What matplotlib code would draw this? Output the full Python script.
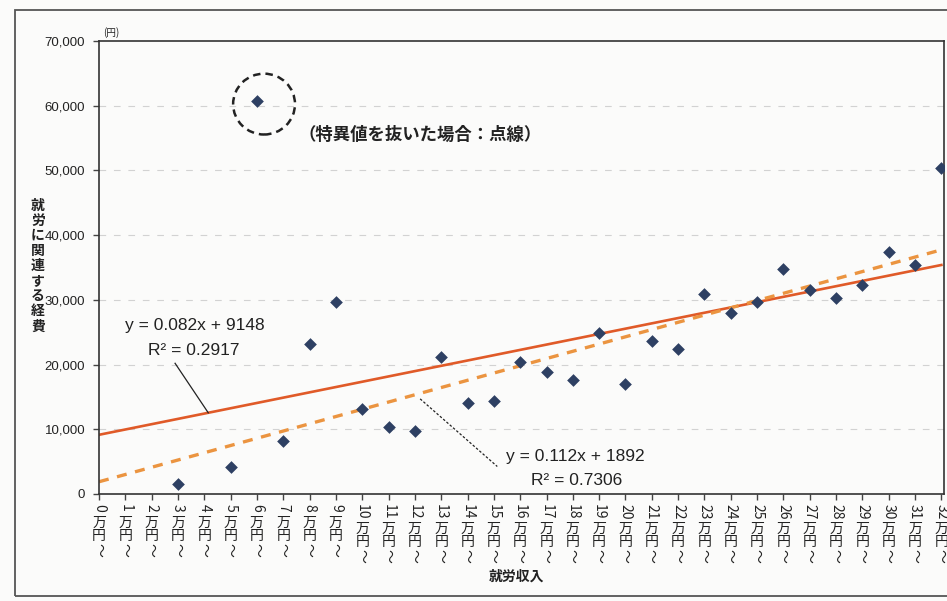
import numpy as np
import matplotlib
matplotlib.use("Agg")
from matplotlib import pyplot as plt
from matplotlib.patches import Ellipse, Rectangle

# 就労収入の階級 (万円) と就労に関連する経費 (円)
categories = list(range(0, 33))
income_idx = [3, 5, 6, 7, 8, 9, 10, 11, 12, 13, 14, 15, 16, 17, 18, 19, 20,
              21, 22, 23, 24, 25, 26, 27, 28, 29, 30, 31, 32]
expense = [1600, 4100, 60700, 8200, 23200, 29600, 13200, 10400, 9800, 21200,
           14000, 14300, 20400, 18900, 17600, 24900, 17000, 23600, 22400,
           30900, 27900, 29700, 34700, 31500, 30300, 32300, 37400, 35400, 50300]
outlier_idx = 6

# 近似直線 (x は円単位)
fit_all = (0.082, 9148, 0.2917)
fit_wo = (0.112, 1892, 0.7306)

yticks = list(range(0, 70001, 10000))
jp = ["Noto Sans CJK JP", "DejaVu Sans"]
num = ["Liberation Sans", "DejaVu Sans"]
ink = "#222222"

W, H = 947, 601
fig = plt.figure(figsize=(W / 100, H / 100), dpi=100)
fig.patch.set_facecolor("#fbfbfa")
ax = fig.add_axes([99 / W, 1 - 494 / H, 845 / W, 453 / H])
ax.set_facecolor("#fbfbfa")

# 外枠
fig.patches.append(Rectangle((15 / W, 5 / H), 1.0, 586 / H, transform=fig.transFigure,
                             fill=False, ec="#555555", lw=1.3))

ax.set_xlim(0, 32.1)
ax.set_ylim(0, 70000)
ax.set_yticks(yticks)
ax.set_yticklabels([f"{v:,}" for v in yticks], family=num, fontsize=9.5, color=ink)
ax.set_xticks(categories)
ax.set_xticklabels([])
ax.tick_params(axis="x", length=4, width=1, color="#444444", direction="out")
ax.tick_params(axis="y", length=4, width=1, color="#444444", direction="out", pad=6)
for s in ax.spines.values():
    s.set_color("#333333")
    s.set_linewidth(1.2)
for v in yticks[1:-1]:
    ax.axhline(v, color="#d2d2d2", lw=0.8, ls=(0, (6, 7)), zorder=0)

# 回帰直線
xs = np.array([0, 32])
slope, icpt, r2 = fit_all
ax.plot(xs, icpt + slope * xs * 10000, color="#e05a28", lw=1.9, zorder=2)
slope2, icpt2, r22 = fit_wo
ax.plot(xs, icpt2 + slope2 * xs * 10000, color="#eb9440", lw=2.4,
        ls=(0, (3, 2.6)), zorder=2)

ax.scatter(income_idx, expense, marker="D", s=42, color="#2e4063", zorder=3, lw=0)

# 特異値を囲む破線の円
ox = income_idx.index(outlier_idx)
ax.add_patch(Ellipse((outlier_idx + 0.27, expense[ox] - 450), 2.35, 9400,
                     fill=False, ec="#222222", lw=1.8, ls=(0, (3, 2))))
ax.text(12.2, 55500, "（特異値を抜いた場合：点線）", family=jp, weight="bold",
        fontsize=12.5, color=ink, ha="center", va="center")

# 回帰式の注記
ax.text(3.65, 26000, f"y = {slope}x + {icpt}", family=num, fontsize=12.5,
        color=ink, ha="center", va="center")
ax.text(3.6, 22200, f"R² = {r2}", family=num, fontsize=12.5,
        color=ink, ha="center", va="center")
ax.plot([2.89, 4.15], [20200, icpt + slope * 41500], color="#222222", lw=0.9)

ax.text(18.1, 5800, f"y = {slope2}x + {icpt2}", family=num, fontsize=12.5,
        color=ink, ha="center", va="center")
ax.text(18.15, 2150, f"R² = {r22}", family=num, fontsize=12.5,
        color=ink, ha="center", va="center")
ax.plot([12.2, 15.13], [14700, 4250], color="#222222", lw=0.9, ls=(0, (2, 1.5)))

# 縦書きの目盛ラベル
for i in categories:
    label = str(i)
    extra = 6 if i >= 10 else 0
    kw = dict(xy=(i, 0), xycoords=("data", "axes fraction"),
              textcoords="offset pixels", ha="center", va="top",
              family=jp, fontsize=10, color=ink)
    ax.annotate(label, xytext=(0, -10), rotation=270, **kw)
    ax.annotate("万", xytext=(0, -22 - extra), **kw)
    ax.annotate("円", xytext=(0, -35 - extra), **kw)
    ax.annotate("〜", xytext=(0, -49 - extra), rotation=270, **kw)

fig.text(517 / W, 1 - 577 / H, "就労収入", family=jp, weight="bold", fontsize=10,
         color=ink, ha="center", va="center")
fig.text(38 / W, 1 - 266 / H, "\n".join("就労に関連する経費"), family=jp,
         weight="bold", fontsize=10, color=ink, ha="center", va="center",
         linespacing=1.1)
fig.text(103 / W, 1 - 33 / H, "(円)", family=jp, fontsize=7, color=ink,
         ha="left", va="center")

fig.savefig("out.png", dpi=100, facecolor=fig.get_facecolor())
